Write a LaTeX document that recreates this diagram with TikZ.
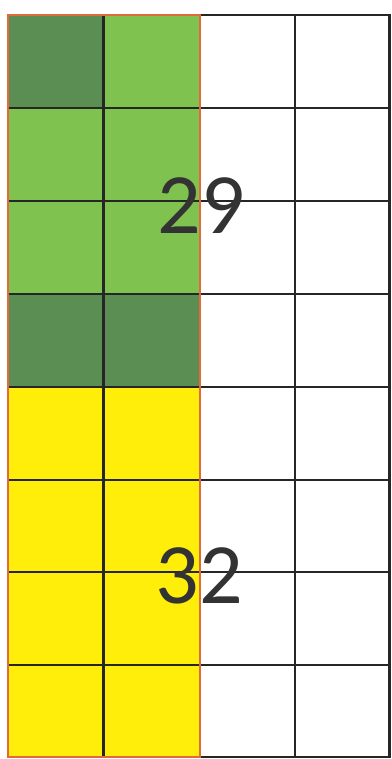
\documentclass[tikz,border=0pt]{standalone}
\usepackage{fontspec}
\setmainfont{Carlito}
\definecolor{dkgreen}{HTML}{5B8E52}
\definecolor{ltgreen}{HTML}{7FC24F}
\definecolor{yel}{HTML}{FFEE0A}
\definecolor{edge}{HTML}{E06A3C}
\definecolor{gridc}{HTML}{262626}
\definecolor{txt}{HTML}{333333}
\tikzset{
  gridline/.style={draw=gridc, line width=2.8pt},
  border/.style={draw=edge, line width=2pt},
  bignum/.style={font=\fontsize{86}{86}\selectfont, text=txt, inner sep=0pt}
}
\begin{document}
\begin{tikzpicture}[x=1pt,y=-1pt]
\useasboundingbox (0,0) rectangle (391,759);
% fills
\fill[dkgreen] (8,15) rectangle (104,108);
\fill[ltgreen] (104,15) rectangle (200,108);
\fill[ltgreen] (8,108) rectangle (200,294);
\fill[dkgreen] (8,294) rectangle (200,387);
\fill[yel] (8,387) rectangle (200,757);
% grid
\foreach \y in {108,201,294,387,480,572,665} {\draw[gridline] (8,\y) -- (390,\y);}
\foreach \x in {103.5,295} {\draw[gridline] (\x,15) -- (\x,757);}
\draw[gridline, line width=2.2pt] (200,15) -- (389.5,15) -- (389.5,757) -- (200,757);
% orange border of the coloured part
\draw[border] (8,15) rectangle (200,757);
% numbers
\node[bignum] (n29) at (201,206) {29};
\node[bignum] (n32) at (199,576) {32};
\end{tikzpicture}
\end{document}
